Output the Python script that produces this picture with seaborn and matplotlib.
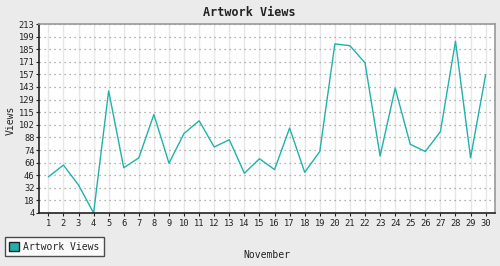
import matplotlib
matplotlib.use("Agg")
import matplotlib.pyplot as plt
import seaborn as sns
import pandas as pd
import numpy as np
from matplotlib.patches import Patch

days = list(range(1, 31))
views = [44, 57, 35, 4, 139, 54, 65, 113, 59, 92, 106, 77, 85, 48, 64, 52, 98, 49, 72, 191,
         189, 170, 67, 142, 80, 72, 94, 194, 65, 157]
ytick_labels = ["4", "18", "32", "46", "60", "74", "88", "102", "115", "129", "143", "157",
                "171", "185", "199", "213"]
series_name = "Artwork Views"
title = "Artwork Views"
xlabel = "November"
ylabel = "Views"

df = pd.DataFrame({"day": days, "views": views, "series": series_name})

sns.set_theme(style="white")
plt.rcParams["font.family"] = ["DejaVu Sans Mono"]

color = "#20B2AA"
fig = plt.figure(figsize=(5, 2.66), dpi=100, facecolor="#EBEBEB")
ax = fig.add_axes([39 / 500, 1 - 213 / 266, (495 - 39) / 500, (213 - 24) / 266])
ax.set_facecolor("white")

sns.lineplot(data=df, x="day", y="views", hue="series", palette=[color], ax=ax,
             linewidth=1.0, legend=False)

yt = np.linspace(4, 213, 16)
ax.set_yticks(yt)
ax.set_yticklabels(ytick_labels)
ax.set_xticks(days)
ax.set_xticklabels([str(d) for d in days])
ax.set_ylim(4, 213)
ax.set_xlim(0.38, 30.62)

ax.yaxis.grid(True, linestyle=(0, (1, 3)), color="#999999", linewidth=0.9)
ax.xaxis.grid(True, linestyle="-", color="#E6E6E6", linewidth=1.0)
ax.set_axisbelow(True)

for s in ["left", "bottom"]:
    ax.spines[s].set_color("#222222")
    ax.spines[s].set_linewidth(1.2)
for s in ["top", "right"]:
    ax.spines[s].set_color("#999999")
    ax.spines[s].set_linewidth(1.2)

ax.tick_params(axis="both", which="major", labelsize=6.3, length=2.4, width=0.8,
               color="#222222", labelcolor="#222222", direction="out", pad=0.8,
               left=True, bottom=True)
ax.tick_params(axis="x", pad=2)

ax.set_xlabel("")
ax.set_ylabel("")
fig.text(267 / 500, 1 - 255 / 266, xlabel, ha="center", va="center", fontsize=7, color="#222222")
fig.text(11 / 500, 1 - 120.5 / 266, ylabel, ha="center", va="center", rotation=90, fontsize=7,
         color="#222222")
fig.text(249 / 500, 1 - 12 / 266, title, ha="center", va="center", fontsize=8.5,
         fontweight="bold", color="#222222")

handles = [Patch(facecolor=color, edgecolor="#222222", label=series_name)]
leg = fig.legend(handles=handles, loc="lower left", bbox_to_anchor=(5 / 500, 1 - 256 / 266),
                 frameon=True, fancybox=False, fontsize=7, handlelength=1.0, handleheight=1.1,
                 handletextpad=0.4, borderpad=0.45, borderaxespad=0)
leg.get_frame().set_edgecolor("#222222")
leg.get_frame().set_linewidth(1.0)
leg.get_frame().set_facecolor("white")

fig.savefig("out.png", dpi=100, facecolor=fig.get_facecolor())
